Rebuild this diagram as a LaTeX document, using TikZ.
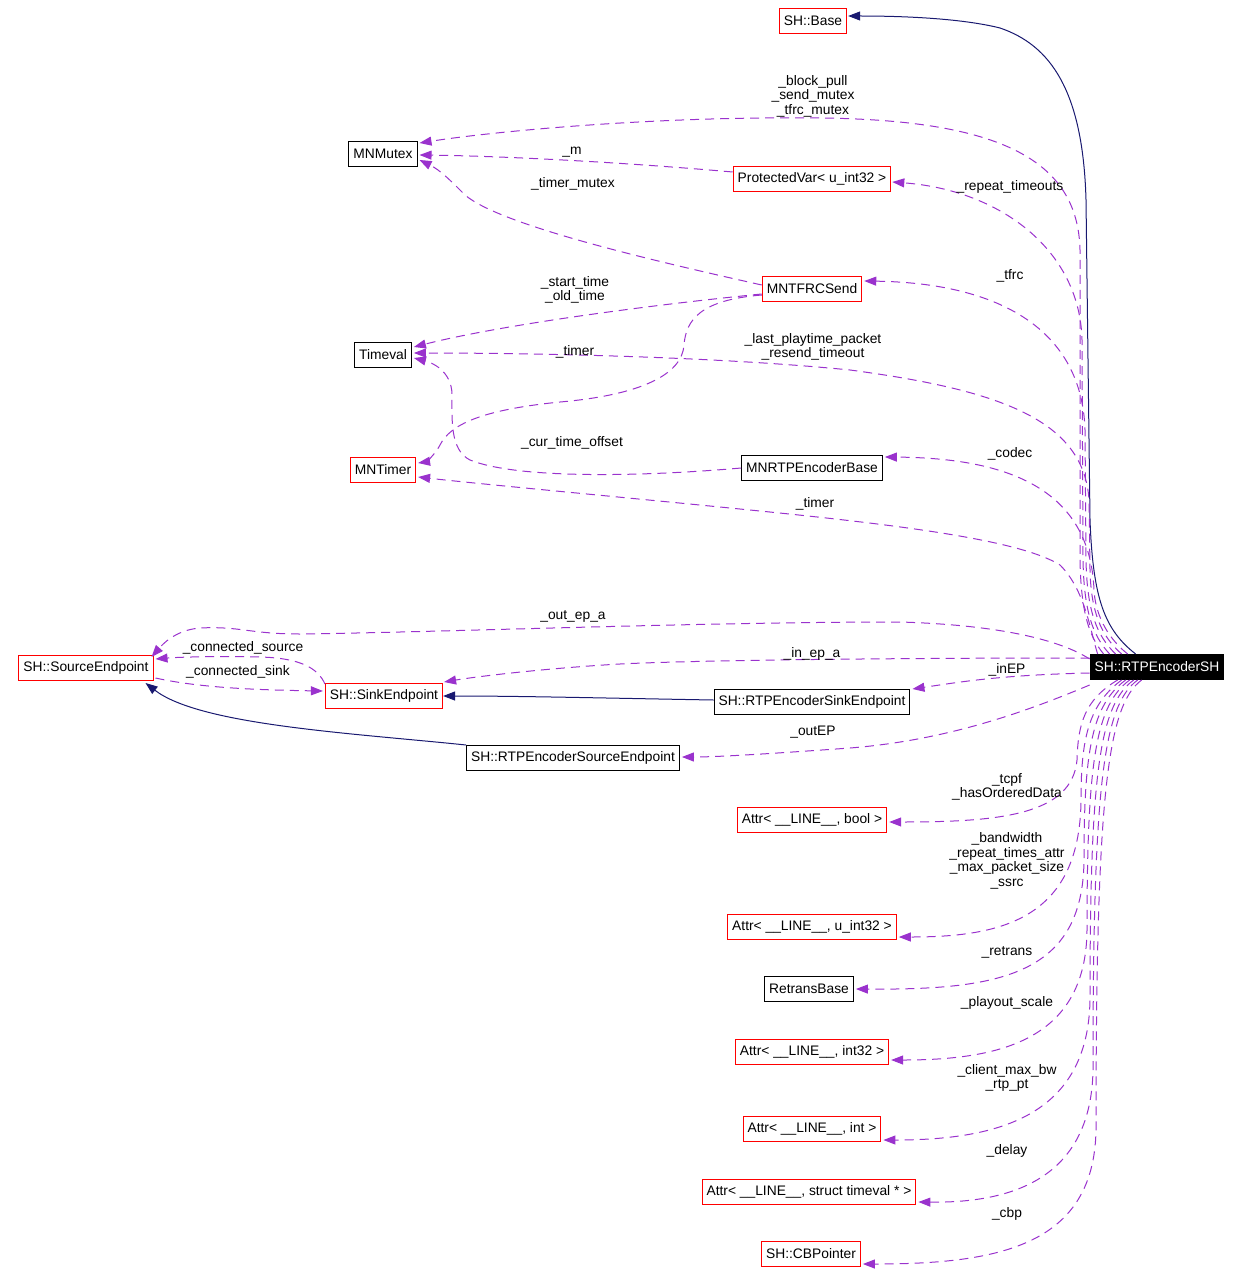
\documentclass[tikz,border=0pt]{standalone}
\usepackage{fontspec}
\setmainfont{Liberation Sans}
\usetikzlibrary{arrows.meta,calc}
\definecolor{memcol}{HTML}{9A32CD}
\definecolor{inhcol}{HTML}{191970}
\newcommand{\MemTip}{Triangle[length=12,width=9]}
\tikzset{cls/.style={draw=black,line width=1,minimum height=25,inner xsep=4.5,inner ysep=0,font=\fontsize{13.8}{14.5}\selectfont}}
\tikzset{clsred/.style={cls,draw=red}}
\tikzset{clsmain/.style={cls,fill=black,text=white}}
\tikzset{lbl/.style={inner sep=0,align=center,font=\fontsize{13.8}{14.5}\selectfont}}
\tikzset{mem/.style={memcol,line width=1,dash pattern=on 9pt off 6pt,-{\MemTip}}}
\tikzset{inh/.style={inhcol,line width=1,-{\MemTip}}}

\begin{document}
\begin{tikzpicture}[x=1pt,y=-1pt]
\useasboundingbox(0,0)rectangle(1240,1284);
\node[clsred](base)at(813,21){SH::Base};
\node[cls](mutex)at(383,154){MNMutex};
\node[clsred](pvar)at(812,179){ProtectedVar< u\_int32 >};
\node[clsred](tfrc)at(812,289){MNTFRCSend};
\node[cls](tv)at(383,355){Timeval};
\node[clsred](timer)at(383,470){MNTimer};
\node[cls](encbase)at(812,468){MNRTPEncoderBase};
\node[clsred](srcep)at(86,668){SH::SourceEndpoint};
\node[clsred](sinkep)at(384,696){SH::SinkEndpoint};
\node[cls](esink)at(812,702){SH::RTPEncoderSinkEndpoint};
\node[cls](esrc)at(573,758){SH::RTPEncoderSourceEndpoint};
\node[clsmain](sh)at(1157,667){SH::RTPEncoderSH};
\node[clsred](abool)at(812,820){Attr< \_\_LINE\_\_, bool >};
\node[clsred](au32)at(812,927){Attr< \_\_LINE\_\_, u\_int32 >};
\node[cls](retr)at(809,989){RetransBase};
\node[clsred](ai32)at(812,1052){Attr< \_\_LINE\_\_, int32 >};
\node[clsred](aint)at(812,1129){Attr< \_\_LINE\_\_, int >};
\node[clsred](atv)at(809,1192){Attr< \_\_LINE\_\_, struct timeval * >};
\node[clsred](cbp)at(811,1254){SH::CBPointer};
\draw[inh]($(sh.north west)+(46,0)$)..controls(1105,630)and(1093,600)..(1090,520)--(1086,200)..controls(1083,90)and(1050,45)..(1000,28)..controls(960,18)and(900,16)..($(base.east)+(1,-5)$);
\draw[inh]($(esink.west)+(0,-2)$)..controls(600,698)and(520,696)..(sinkep.east);
\draw[inh](esrc.north west)..controls(350,733)and(200,725)..($(srcep.south east)+(-8,2)$);
\draw[mem]($(sh.north west)+(14,0)$)..controls(1088,635)and(1081,610)..(1080,560)--(1080,250)..controls(1078,160)and(1000,120)..(820,118)..controls(650,116)and(490,132)..($(mutex.east)+(2,-11)$);
\draw[mem]($(sh.north west)+(20,0)$)..controls(1092,635)and(1084,610)..(1083,560)--(1082,340)..controls(1080,250)and(1000,190)..($(pvar.east)+(1,3)$);
\draw[mem]($(sh.north west)+(26,0)$)..controls(1096,635)and(1087,610)..(1086,560)--(1085,430)..controls(1082,330)and(1000,283)..($(tfrc.east)+(2,-8)$);
\draw[mem]($(sh.north west)+(32,0)$)..controls(1100,635)and(1091,610)..(1090,570)--(1089,500)..controls(1084,420)and(1000,390)..(850,370)..controls(700,355)and(500,353)..($(tv.east)+(2,-2)$);
\draw[mem]($(sh.north west)+(38,0)$)..controls(1104,635)and(1095,610)..(1094,590)..controls(1090,490)and(1010,458)..($(encbase.east)+(2,-11)$);
\draw[mem]($(sh.north west)+(8,0)$)..controls(1090,630)and(1085,590)..(1060,565)..controls(1020,540)and(900,525)..(750,510)..controls(600,495)and(480,484)..($(timer.east)+(2,7)$);
\draw[mem]($(sh.west)+(0,-8)$)..controls(1060,640)and(1000,625)..(900,622)..controls(700,622)and(450,632)..(300,634)..controls(250,634)and(240,626)..(200,628)..controls(175,630)and(162,645)..($(srcep.north east)+(-2,2)$);
\draw[mem]($(sh.west)+(0,-9)$)..controls(900,658)and(700,660)..(620,664)..controls(550,668)and(480,676)..($(sinkep.north east)+(1,-1)$);
\draw[mem]($(sh.west)+(0,6)$)..controls(1000,675)and(960,682)..($(esink.north east)+(2,0)$);
\draw[mem]($(sh.west)+(0,18)$)..controls(1030,710)and(950,740)..(850,748)..controls(780,753)and(720,757)..($(esrc.east)+(2,-1)$);
\draw[mem]($(sh.south west)+(28,0)$)..controls(1084,700)and(1078,725)..(1077,760)..controls(1072,815)and(1000,822)..($(abool.east)+(2,2)$);
\draw[mem]($(sh.south west)+(32,0)$)..controls(1088,705)and(1081,740)..(1081,800)..controls(1080,920)and(1000,937)..($(au32.east)+(2,10)$);
\draw[mem]($(sh.south west)+(36,0)$)..controls(1092,705)and(1084,750)..(1084,860)..controls(1083,975)and(1000,990)..($(retr.east)+(2,0)$);
\draw[mem]($(sh.south west)+(40,0)$)..controls(1096,705)and(1087,760)..(1087,930)..controls(1086,1040)and(1000,1060)..($(ai32.east)+(2,8)$);
\draw[mem]($(sh.south west)+(44,0)$)..controls(1100,705)and(1090,770)..(1090,1000)..controls(1088,1115)and(1000,1140)..($(aint.east)+(2,11)$);
\draw[mem]($(sh.south west)+(48,0)$)..controls(1104,705)and(1093,780)..(1093,1070)..controls(1091,1180)and(1010,1203)..($(atv.east)+(2,10)$);
\draw[mem]($(sh.south west)+(52,0)$)..controls(1108,705)and(1096,790)..(1096,1130)..controls(1094,1245)and(1000,1264)..($(cbp.east)+(2,10)$);
\draw[mem]($(pvar.west)+(0,-7)$)..controls(620,162)and(500,156)..($(mutex.east)+(2,1)$);
\draw[mem]($(tfrc.west)+(0,-4)$)..controls(650,260)and(500,225)..(465,195)..controls(450,180)and(440,170)..($(mutex.east)+(2,6)$);
\draw[mem]($(tfrc.west)+(0,5)$)..controls(650,305)and(500,325)..($(tv.east)+(2,-8)$);
\draw[mem]($(tfrc.west)+(0,6)$)..controls(700,300)and(686,320)..(684,345)..controls(682,375)and(640,395)..(560,402)..controls(480,410)and(450,425)..(440,445)..controls(435,455)and(425,462)..($(timer.east)+(2,-7)$);
\draw[mem](encbase.west)..controls(650,476)and(520,480)..(470,460)..controls(450,450)and(452,420)..(452,395)..controls(452,370)and(430,362)..($(tv.east)+(2,3)$);
\draw[mem]($(sinkep.north west)+(0,1)$)..controls(318,668)and(300,658)..(260,657)..controls(220,656)and(180,657)..($(srcep.east)+(2,-9)$);
\draw[mem]($(srcep.east)+(2,10)$)..controls(200,688)and(260,690)..($(sinkep.west)+(-2,-5)$);
\node[lbl](lmutex)at(813,96){\_block\_pull\\\_send\_mutex\\\_tfrc\_mutex};
\node[lbl](lm)at(572,152){\_m};
\node[lbl](ltmutex)at(573,184){\_timer\_mutex};
\node[lbl](lrep)at(1010,187){\_repeat\_timeouts};
\node[lbl](ltfrc)at(1010,276){\_tfrc};
\node[lbl](lstart)at(575,290){\_start\_time\\\_old\_time};
\node[lbl](llast)at(813,347){\_last\_playtime\_packet\\\_resend\_timeout};
\node[lbl](ltimer)at(575,352){\_timer};
\node[lbl](lcur)at(572,443){\_cur\_time\_offset};
\node[lbl](lcodec)at(1010,454){\_codec};
\node[lbl](ltimer2)at(815,504){\_timer};
\node[lbl](lout)at(573,616){\_out\_ep\_a};
\node[lbl](lcsrc)at(243,648){\_connected\_source};
\node[lbl](lcsink)at(238,672){\_connected\_sink};
\node[lbl](lin)at(812,654){\_in\_ep\_a};
\node[lbl](linep)at(1007,670){\_inEP};
\node[lbl](loutep)at(813,732){\_outEP};
\node[lbl](lbool)at(1007,787){\_tcpf\\\_hasOrderedData};
\node[lbl](lu32)at(1007,861){\_bandwidth\\\_repeat\_times\_attr\\\_max\_packet\_size\\\_ssrc};
\node[lbl](lretr)at(1007,952){\_retrans};
\node[lbl](li32)at(1007,1003){\_playout\_scale};
\node[lbl](lint)at(1007,1078){\_client\_max\_bw\\\_rtp\_pt};
\node[lbl](ldelay)at(1007,1151){\_delay};
\node[lbl](lcbp)at(1007,1214){\_cbp};
\end{tikzpicture}
\end{document}
